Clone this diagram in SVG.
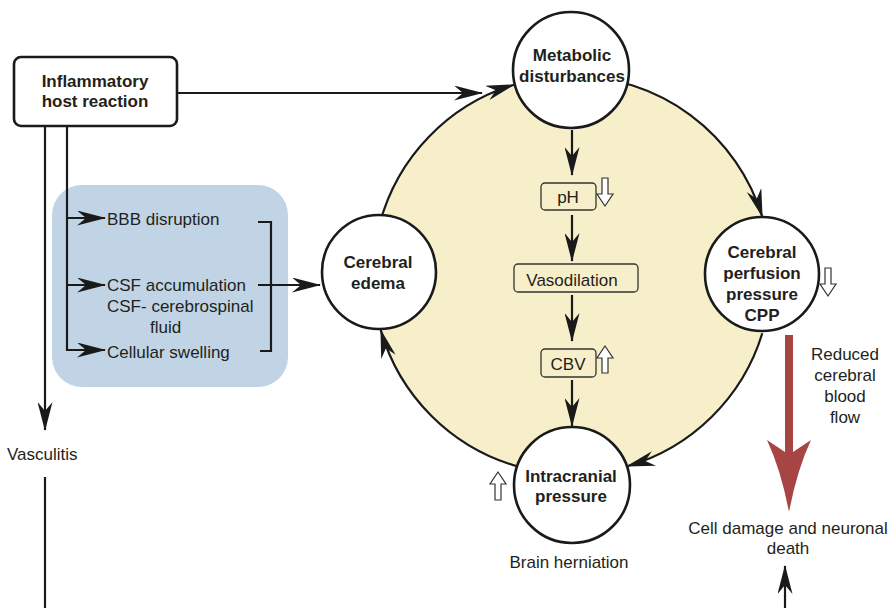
<svg xmlns="http://www.w3.org/2000/svg" width="893" height="608" viewBox="0 0 893 608">
<style>
text{font-family:"Liberation Sans",Arial,Helvetica,sans-serif;fill:#231f20;font-size:17px}
.b{font-weight:bold}
.c{text-anchor:middle}
.ln{fill:none;stroke:#1a1a1a;stroke-width:2.2}
.node{fill:#fff;stroke:#1a1a1a;stroke-width:2.6}
.sbox{fill:none;stroke:#333;stroke-width:1.3}
.hol{fill:#fff;stroke:#333;stroke-width:1.2}
</style>
<defs>
<marker id="ah" viewBox="0 0 29 15" refX="28" refY="7.5" markerWidth="29" markerHeight="15" markerUnits="userSpaceOnUse" orient="auto">
<path d="M0,0 L29,7.5 L0,15 L9,7.5 Z" fill="#1a1a1a"/>
</marker>
</defs>
<rect width="893" height="608" fill="#fff"/>
<g id="cycle-bg">
<circle cx="572" cy="275" r="199" fill="#f7efc9"/>
</g>
<g id="blue-panel">
<rect x="52" y="185" width="236" height="202" rx="30" fill="#c1d4e5"/>
</g>
<g id="connectors">
<path class="ln" d="M177,93 H482" marker-end="url(#ah)"/>
<path class="ln" d="M45,126 V430" marker-end="url(#ah)"/>
<path class="ln" d="M45,477 V608"/>
<path class="ln" d="M67,126 V350 H105" marker-end="url(#ah)"/>
<path class="ln" d="M67,218 H105" marker-end="url(#ah)"/>
<path class="ln" d="M67,285 H105" marker-end="url(#ah)"/>
<path class="ln" d="M258,222 H271 V351 H260"/>
<path class="ln" d="M258,285 H320" marker-end="url(#ah)"/>
<path class="ln" d="M379.8,223.5 A199,199 0 0 1 514,84.7" marker-end="url(#ah)"/>
<path class="ln" d="M572,76 A199,199 0 0 1 762.3,216.9" marker-end="url(#ah)"/>
<path class="ln" d="M762.3,333.2 A199,199 0 0 1 627,466.3" marker-end="url(#ah)"/>
<path class="ln" d="M517.1,466.3 A199,199 0 0 1 380.7,329.9" marker-end="url(#ah)"/>
<path class="ln" d="M572,130 V175" marker-end="url(#ah)"/>
<path class="ln" d="M572,215 V261" marker-end="url(#ah)"/>
<path class="ln" d="M572,295 V341" marker-end="url(#ah)"/>
<path class="ln" d="M572,380 V426" marker-end="url(#ah)"/>
<path class="ln" d="M785,608 V566" marker-end="url(#ah)"/>
<path d="M785,335 V452 L767,440 Q781,470 789,512 Q797,470 811,440 L793,452 V335 Z" fill="#a64543"/>
</g>
<g id="node-inflammatory">
<rect x="14" y="57" width="163" height="69" rx="7" class="node" stroke-width="2.2"/>
<text class="b c" x="95" y="87">Inflammatory</text>
<text class="b c" x="95" y="107">host reaction</text>
</g>
<g id="node-bbb"><text x="107" y="225">BBB disruption</text></g>
<g id="node-csf">
<text x="107" y="291">CSF accumulation</text>
<text x="107" y="312">CSF- cerebrospinal</text>
<text x="150" y="333">fluid</text>
</g>
<g id="node-cellular"><text x="107" y="358">Cellular swelling</text></g>
<g id="node-vasculitis"><text x="7" y="460">Vasculitis</text></g>
<g id="node-metabolic">
<circle cx="571" cy="70" r="58" class="node"/>
<text class="b c" x="572" y="61">Metabolic</text>
<text class="b c" x="572" y="82">disturbances</text>
</g>
<g id="node-edema">
<circle cx="379" cy="272" r="57" class="node"/>
<text class="b c" x="378" y="268">Cerebral</text>
<text class="b c" x="378" y="289">edema</text>
</g>
<g id="node-cpp">
<circle cx="762" cy="274" r="57" class="node"/>
<text class="b c" x="762" y="258">Cerebral</text>
<text class="b c" x="762" y="279">perfusion</text>
<text class="b c" x="762" y="300">pressure</text>
<text class="b c" x="762" y="321">CPP</text>
<path class="hol" d="M825,268 H831 V284 H836 L828,296 L820,284 H825 Z"/>
</g>
<g id="node-intracranial">
<circle cx="572" cy="485" r="58" class="node"/>
<text class="b c" x="571" y="482">Intracranial</text>
<text class="b c" x="571" y="502">pressure</text>
<path class="hol" d="M498,472 L506,484 H501 V500 H495 V484 H490 Z"/>
</g>
<g id="node-herniation"><text class="c" x="569" y="568">Brain herniation</text></g>
<g id="node-ph">
<rect x="541" y="183" width="55" height="27" rx="4" class="sbox"/>
<text class="c" x="568" y="203">pH</text>
<path class="hol" d="M602,178 H608 V194 H613 L605,206 L597,194 H602 Z"/>
</g>
<g id="node-vaso">
<rect x="514" y="264" width="124" height="28" rx="4" class="sbox"/>
<text class="c" x="572" y="286">Vasodilation</text>
</g>
<g id="node-cbv">
<rect x="541" y="349" width="55" height="28" rx="4" class="sbox"/>
<text class="c" x="568" y="370">CBV</text>
<path class="hol" d="M605,346 L613,358 H608 V373 H602 V358 H597 Z"/>
</g>
<g id="node-rcbf">
<text class="c" x="845" y="360">Reduced</text>
<text class="c" x="845" y="381">cerebral</text>
<text class="c" x="845" y="402">blood</text>
<text class="c" x="845" y="423">flow</text>
</g>
<g id="node-celldamage">
<text class="c" x="788" y="534">Cell damage and neuronal</text>
<text class="c" x="788" y="554">death</text>
</g>
</svg>
